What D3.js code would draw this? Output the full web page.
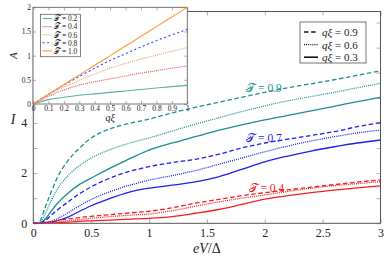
<!DOCTYPE html>
<html>
<head>
<meta charset="utf-8">
<script src="https://cdn.jsdelivr.net/npm/d3@7"></script>
<style>
  body { margin: 0; background: #fff; }
  svg { display: block; }
  text { font-family: "Liberation Serif", "DejaVu Serif", serif; fill: #222; }
</style>
</head>
<body>
<svg id="chart" width="391" height="264"></svg>
<script>
// main panel: current I against eV/Delta
const eV = [0, 0.05, 0.1, 0.15, 0.2, 0.3, 0.4, 0.5, 0.6, 0.7, 0.8, 0.9, 1.0,
            1.2, 1.4, 1.6, 1.8, 2.0, 2.2, 2.4, 2.6, 2.8, 3.0]

// T = 0.9
const t09q09 = [0, 0.05, 0.6, 1.2, 1.75, 2.5, 3.0, 3.4, 3.65, 3.82, 3.95, 4.05, 4.15,
                4.4, 4.62, 4.82, 5.02, 5.22, 5.4, 5.56, 5.72, 5.9, 6.07]
const t09q06 = [0, 0, 0.35, 0.85, 1.3, 1.9, 2.3, 2.6, 2.82, 3.0, 3.15, 3.28, 3.4,
                3.68, 3.95, 4.2, 4.45, 4.68, 4.88, 5.05, 5.22, 5.4, 5.58]
const t09q03 = [0, 0, 0.15, 0.45, 0.75, 1.2, 1.55, 1.8, 2.05, 2.28, 2.5, 2.72, 2.92,
                3.2, 3.45, 3.7, 3.92, 4.12, 4.3, 4.48, 4.66, 4.85, 5.02]
// T = 0.7
const t07q09 = [0, 0, 0.1, 0.3, 0.5, 0.85, 1.18, 1.45, 1.68, 1.87, 2.03, 2.15, 2.26,
                2.42, 2.55, 2.75, 3.0, 3.2, 3.35, 3.5, 3.65, 3.85, 4.01]
const t07q06 = [0, 0, 0.03, 0.08, 0.17, 0.42, 0.7, 0.95, 1.15, 1.32, 1.48, 1.6, 1.72,
                1.9, 2.1, 2.35, 2.6, 2.85, 3.08, 3.28, 3.45, 3.6, 3.72]
const t07q03 = [0, 0, 0.02, 0.05, 0.1, 0.25, 0.48, 0.7, 0.88, 1.05, 1.2, 1.32, 1.4,
                1.52, 1.65, 1.85, 2.15, 2.45, 2.68, 2.88, 3.05, 3.2, 3.32]
// T = 0.4
const t04q09 = [0, 0, 0.02, 0.05, 0.1, 0.17, 0.23, 0.28, 0.32, 0.36, 0.4, 0.44, 0.48,
                0.62, 0.8, 0.95, 1.1, 1.22, 1.33, 1.44, 1.54, 1.64, 1.73]
const t04q06 = [0, 0, 0.01, 0.02, 0.05, 0.1, 0.15, 0.2, 0.24, 0.28, 0.31, 0.34, 0.37,
                0.5, 0.68, 0.85, 1.0, 1.13, 1.27, 1.4, 1.5, 1.58, 1.66]
const t04q03 = [0, 0, 0, 0.01, 0.02, 0.05, 0.08, 0.1, 0.12, 0.14, 0.16, 0.18, 0.2,
                0.27, 0.4, 0.55, 0.75, 0.96, 1.1, 1.22, 1.32, 1.41, 1.49]

const xTicks = [0, 0.5, 1, 1.5, 2, 2.5, 3]
const yTicks = [0, 1, 2, 3, 4, 5, 6, 7, 8]
const yLabels = [0, 2, 4]
const qLabels = ["0.9", "0.6", "0.3"]

// inset: A against q xi
const q = [0, 0.1, 0.2, 0.3, 0.4, 0.5, 0.6, 0.7, 0.8, 0.9, 1.0]
const a02 = [0, 0.09, 0.14, 0.18, 0.21, 0.24, 0.27, 0.3, 0.33, 0.36, 0.386]
const a04 = [0, 0.16, 0.29, 0.39, 0.46, 0.52, 0.58, 0.64, 0.69, 0.74, 0.786]
const a06 = [0, 0.19, 0.35, 0.49, 0.62, 0.74, 0.84, 0.93, 1.01, 1.09, 1.166]
const a08 = [0, 0.2, 0.39, 0.57, 0.74, 0.9, 1.04, 1.18, 1.31, 1.43, 1.545]
const a10 = [0, 0.2, 0.4, 0.6, 0.8, 1.0, 1.2, 1.4, 1.6, 1.8, 2.0]
const insetT = ["0.2", "0.4", "0.6", "0.8", "1.0"]
const qTicks = [0, 0.1, 0.2, 0.3, 0.4, 0.5, 0.6, 0.7, 0.8, 0.9, 1]
const aTicks = [0, 0.5, 1, 1.5, 2]

const svg = d3.select("#chart")
const scriptT = "\u{1D4AF}"

const dash = "4.5,2.6"
const dot = "1,1.1"

// ---------- main axes ----------
const x = d3.scaleLinear().domain([0, 3]).range([33.3, 380.5])
const y = d3.scaleLinear().domain([0, 8.44]).range([223.3, 11.5])

const main = svg.append("g")

main.append("defs").append("clipPath").attr("id", "clipMain")
  .append("rect")
  .attr("x", x(0)).attr("y", y(8.44))
  .attr("width", x(3) - x(0)).attr("height", y(0) - y(8.44))

const tickStyle = g => {
  g.select(".domain").remove()
  g.selectAll(".tick line").attr("stroke", "#999").attr("stroke-width", 0.8)
}

main.append("g")
  .attr("transform", "translate(0," + y(0) + ")")
  .call(d3.axisBottom(x).tickValues(xTicks).tickSize(-4).tickPadding(5)
    .tickFormat(d => d3.format("")(d)))
  .call(tickStyle)
  .selectAll("text").attr("font-size", 12).attr("fill", "#222")

main.append("g")
  .attr("transform", "translate(0," + y(8.44) + ")")
  .call(d3.axisTop(x).tickValues(xTicks).tickSize(-4).tickFormat(""))
  .call(tickStyle)

main.append("g")
  .attr("transform", "translate(" + x(0) + ",0)")
  .call(d3.axisLeft(y).tickValues(yTicks).tickSize(-4).tickPadding(6)
    .tickFormat(d => yLabels.includes(d) ? d : ""))
  .call(tickStyle)
  .selectAll("text").attr("font-size", 12).attr("fill", "#222")

main.append("g")
  .attr("transform", "translate(" + x(3) + ",0)")
  .call(d3.axisRight(y).tickValues(yTicks).tickSize(-4).tickFormat(""))
  .call(tickStyle)

main.append("rect")
  .attr("x", x(0)).attr("y", y(8.44))
  .attr("width", x(3) - x(0)).attr("height", y(0) - y(8.44))
  .attr("fill", "none").attr("stroke", "#555").attr("stroke-width", 1)

const line = d3.line()
  .x((d, i) => x(eV[i]))
  .y(d => y(d))
  .curve(d3.curveMonotoneX)

const series = [
  { v: t09q09, c: "#1a8f8f", d: dash },
  { v: t09q06, c: "#1a8f8f", d: dot },
  { v: t09q03, c: "#1a8f8f", d: null },
  { v: t07q09, c: "#1f1fee", d: dash },
  { v: t07q06, c: "#1f1fee", d: dot },
  { v: t07q03, c: "#1f1fee", d: null },
  { v: t04q09, c: "#f02020", d: dash },
  { v: t04q06, c: "#f02020", d: dot },
  { v: t04q03, c: "#f02020", d: null }
]

main.append("g").attr("clip-path", "url(#clipMain)")
  .selectAll("path")
  .data(series)
  .enter()
  .append("path")
  .attr("d", s => line(s.v))
  .attr("fill", "none")
  .attr("stroke", s => s.c)
  .attr("stroke-width", 1.3)
  .attr("stroke-dasharray", s => s.d)

// curve labels
const curveLabels = [
  { t: "0.9", c: "#1a8f8f", vx: 1.84, vy: 5.25 },
  { t: "0.7", c: "#1f1fee", vx: 1.84, vy: 3.25 },
  { t: "0.4", c: "#f02020", vx: 1.86, vy: 1.25 }
]
curveLabels.forEach(l => {
  const tx = main.append("text")
    .attr("x", x(l.vx)).attr("y", y(l.vy))
    .attr("font-size", 11.5)
    .style("fill", l.c)
  tx.append("tspan").text(scriptT).attr("font-family", "'DejaVu Serif', serif")
  tx.append("tspan").text(" = " + l.t)
})

// axis titles
const xt = main.append("text")
  .attr("x", (x(0) + x(3)) / 2).attr("y", 253)
  .attr("text-anchor", "middle").attr("font-size", 14)
xt.append("tspan").text("eV").attr("font-style", "italic")
xt.append("tspan").text("/Δ")

main.append("text")
  .attr("x", 13).attr("y", 124)
  .attr("text-anchor", "middle").attr("font-size", 14)
  .attr("font-style", "italic")
  .text("I")

// legend for q xi
const lg = main.append("g")
lg.append("rect")
  .attr("x", 300).attr("y", 22).attr("width", 66).attr("height", 41)
  .attr("fill", "#fff").attr("stroke", "#666").attr("stroke-width", 0.9)
const lgDash = [dash, dot, null]
qLabels.forEach((t, i) => {
  const yy = 32 + i * 12.6
  lg.append("line")
    .attr("x1", 304).attr("x2", 318).attr("y1", yy).attr("y2", yy)
    .attr("stroke", "#111").attr("stroke-width", i == 2 ? 1.6 : 1.3)
    .attr("stroke-dasharray", lgDash[i])
  const tx = lg.append("text").attr("x", 322).attr("y", yy + 4).attr("font-size", 11)
  tx.append("tspan").text("qξ").attr("font-style", "italic")
  tx.append("tspan").text(" = " + t)
})

// ---------- inset ----------
const ix = d3.scaleLinear().domain([0, 1]).range([33, 187.3])
const iy = d3.scaleLinear().domain([0, 2]).range([104, 7.3])

const inset = svg.append("g")

inset.append("rect")
  .attr("x", ix(0)).attr("y", iy(2))
  .attr("width", ix(1) - ix(0)).attr("height", iy(0) - iy(2))
  .attr("fill", "#fff")

inset.append("g")
  .attr("transform", "translate(0," + iy(0) + ")")
  .call(d3.axisBottom(ix).tickValues(qTicks).tickSize(-3).tickPadding(1.5)
    .tickFormat(d => d3.format("")(d)))
  .call(tickStyle)
  .selectAll("text").attr("font-size", 7.5).attr("fill", "#222")

inset.append("g")
  .attr("transform", "translate(0," + iy(2) + ")")
  .call(d3.axisTop(ix).tickValues(qTicks).tickSize(-3).tickFormat(""))
  .call(tickStyle)

inset.append("g")
  .attr("transform", "translate(" + ix(0) + ",0)")
  .call(d3.axisLeft(iy).tickValues(aTicks).tickSize(-3).tickPadding(2)
    .tickFormat(d => d3.format("")(d)))
  .call(tickStyle)
  .selectAll("text").attr("font-size", 7.5).attr("fill", "#222")

inset.append("g")
  .attr("transform", "translate(" + ix(1) + ",0)")
  .call(d3.axisRight(iy).tickValues(aTicks).tickSize(-3).tickFormat(""))
  .call(tickStyle)

inset.append("rect")
  .attr("x", ix(0)).attr("y", iy(2))
  .attr("width", ix(1) - ix(0)).attr("height", iy(0) - iy(2))
  .attr("fill", "none").attr("stroke", "#666").attr("stroke-width", 0.9)

const iline = d3.line()
  .x((d, i) => ix(q[i]))
  .y(d => iy(d))
  .curve(d3.curveMonotoneX)

const iseries = [
  { v: a02, c: "#58b0a6", d: null },
  { v: a04, c: "#f04848", d: "1,1" },
  { v: a06, c: "#d8a27a", d: "1,1" },
  { v: a08, c: "#4848ff", d: "2.2,2.4" },
  { v: a10, c: "#ff9a33", d: null }
]

inset.append("g")
  .selectAll("path")
  .data(iseries)
  .enter()
  .append("path")
  .attr("d", s => iline(s.v))
  .attr("fill", "none")
  .attr("stroke", s => s.c)
  .attr("stroke-width", 1.1)
  .attr("stroke-dasharray", s => s.d)

inset.append("text")
  .attr("x", (ix(0) + ix(1)) / 2).attr("y", 121)
  .attr("text-anchor", "middle").attr("font-size", 10)
  .attr("font-style", "italic")
  .text("qξ")

inset.append("text")
  .attr("transform", "translate(17," + ((iy(0) + iy(2)) / 2) + ") rotate(-90)")
  .attr("text-anchor", "middle").attr("font-size", 11)
  .attr("font-style", "italic")
  .text("A")

// inset legend
const ilg = inset.append("g")
ilg.append("rect")
  .attr("x", 40.5).attr("y", 14.3).attr("width", 40).attr("height", 42.4)
  .attr("fill", "#fff").attr("stroke", "#666").attr("stroke-width", 0.8)
insetT.forEach((t, i) => {
  const yy = 18.5 + i * 8.1
  ilg.append("line")
    .attr("x1", 42.5).attr("x2", 52).attr("y1", yy).attr("y2", yy)
    .attr("stroke", iseries[i].c).attr("stroke-width", 1.1)
    .attr("stroke-dasharray", iseries[i].d)
  const tx = ilg.append("text").attr("x", 54).attr("y", yy + 2.8).attr("font-size", 7.5)
  tx.append("tspan").text(scriptT).attr("font-family", "'DejaVu Serif', serif")
  tx.append("tspan").text(" = " + t)
})
</script>
</body>
</html>
